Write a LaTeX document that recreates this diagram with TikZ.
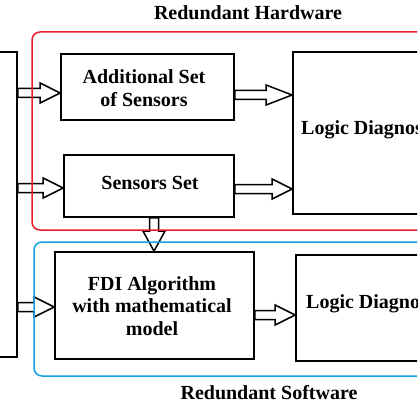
\documentclass[tikz,border=0pt]{standalone}
\usepackage{fontspec}
\setmainfont{Liberation Serif}
\usetikzlibrary{calc}
\definecolor{hwred}{RGB}{236,28,36}
\definecolor{swblue}{RGB}{22,160,228}
\tikzset{
  box/.style={draw, line width=1.8pt, inner sep=0pt},
  lbl/.style={font=\fontsize{20}{22.5}\selectfont\bfseries, align=center, inner sep=0pt},
  blockarrow/.style={draw, line width=1.5pt, line join=miter},
  hwframe/.style={draw=hwred, line width=1.5pt, rounded corners=8pt},
  swframe/.style={draw=swblue, line width=1.5pt, rounded corners=8pt},
}
% horizontal hollow block arrow from #2 to #3 (at the height of #2)
\newcommand\harrow[3][20pt]{%
  \path[blockarrow] let \p1=(#2), \p2=(#3) in
    (\x1,\y1+4.5pt) -- (\x2-#1,\y1+4.5pt) -- (\x2-#1,\y1+10pt) -- (\x2,\y1)
    -- (\x2-#1,\y1-10pt) -- (\x2-#1,\y1-4.5pt) -- (\x1,\y1-4.5pt) -- cycle;}
% downward hollow block arrow from #1 to #2 (at the x of #1)
\newcommand\varrow[2]{%
  \path[blockarrow] let \p1=(#1), \p2=(#2) in
    (\x1-4.5pt,\y1) -- (\x1-4.5pt,\y2+20pt) -- (\x1-11pt,\y2+20pt) -- (\x1,\y2)
    -- (\x1+11pt,\y2+20pt) -- (\x1+4.5pt,\y2+20pt) -- (\x1+4.5pt,\y1) -- cycle;}
\begin{document}
\begin{tikzpicture}[x=1pt,y=-1pt]
\useasboundingbox (0,0) rectangle (417,417);
\clip (0,0) rectangle (417,417);
% boxes
\node[box, minimum width=57pt, minimum height=305pt] (L) at (-11.5,204.5) {};
\node[box, minimum width=173pt, minimum height=66pt] (add) at (147.5,87) {};
\node[lbl] at (144,88) {Additional Set\\of Sensors};
\node[box, minimum width=170pt, minimum height=62pt] (sen) at (149,186) {};
\node[lbl] at (150,183) {Sensors Set};
\node[box, minimum width=157pt, minimum height=162pt] (ld1) at (371.5,133) {};
\node[lbl, anchor=west] at (301,130) {Logic Diagnosis};
\node[box, minimum width=199pt, minimum height=107pt] (fdi) at (154.5,305.5) {};
\node[lbl] at (152,306) {FDI Algorithm\\with mathematical\\model};
\node[box, minimum width=154pt, minimum height=106pt] (ld2) at (373,308) {};
\node[lbl, anchor=west] at (306,304) {Logic Diagnosis};
% connector end points
\coordinate (a1) at (L.east |- 0,93);
\coordinate (a2) at (L.east |- 0,188);
\coordinate (a3) at (L.east |- 0,307);
\coordinate (b1) at (add.east |- 0,95);
\coordinate (b2) at (sen.east |- 0,189);
\coordinate (c1) at (fdi.east |- 0,315);
\coordinate (d1) at (sen.south -| 154,0);
% arrows
\harrow{a1}{add.west}
\harrow{a2}{sen.west}
\harrow{a3}{fdi.west}
\harrow[26pt]{b1}{ld1.west}
\harrow{b2}{ld1.west}
\harrow{c1}{ld2.west}
\varrow{d1}{fdi.north}
% frames
\draw[hwframe] (32,32) rectangle (460,230);
\draw[swframe] (34,242) rectangle (460,376);
\node[lbl] (hw) at (248,13) {Redundant Hardware};
\node[lbl] (sw) at (269,393) {Redundant Software};
\end{tikzpicture}
\end{document}
